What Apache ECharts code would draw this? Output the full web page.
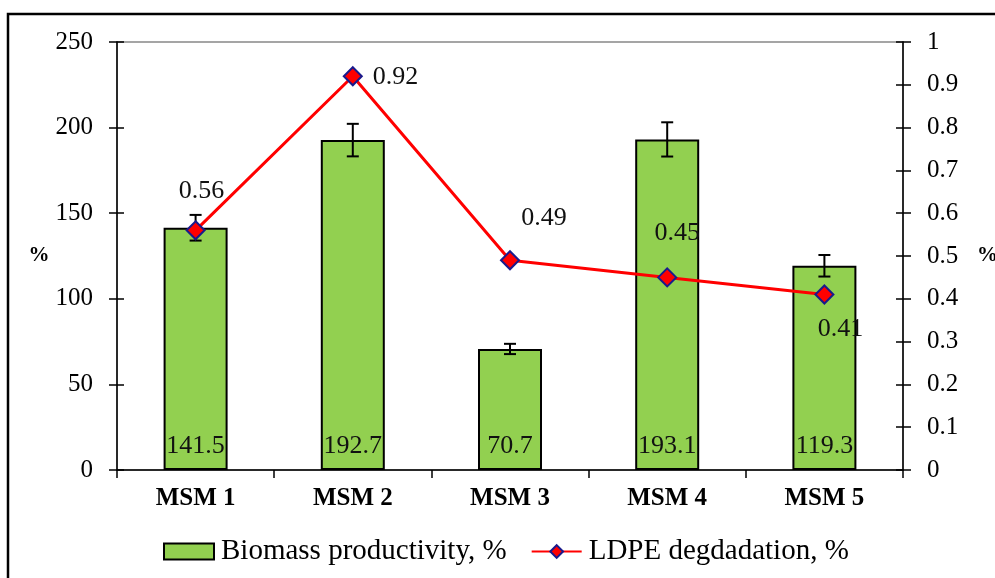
<!DOCTYPE html>
<html>
<head>
<meta charset="utf-8">
<script src="https://cdn.jsdelivr.net/npm/echarts@6/dist/echarts.min.js"></script>
<style>
  html, body { margin: 0; padding: 0; background: #fff; }
  #chart { width: 995px; height: 578px; }
</style>
</head>
<body>
<div id="chart"></div>
<script>
// data
const categories = ['MSM 1', 'MSM 2', 'MSM 3', 'MSM 4', 'MSM 5']
const biomass = [141.5, 192.7, 70.7, 193.1, 119.3]
const biomassErr = [7.5, 9.5, 3, 10, 6.3]
const ldpe = [0.56, 0.92, 0.49, 0.45, 0.41]
const leftTicks = [0, 50, 100, 150, 200, 250]
const rightTicks = [0, 0.1, 0.2, 0.3, 0.4, 0.5, 0.6, 0.7, 0.8, 0.9, 1]

const font = '"Liberation Serif", "Times New Roman", serif'

// label placement for each line point (offsets in px)
const ldpeLabelPos = [
  { position: 'top', offset: [6, -11] },
  { position: 'right', offset: [5, 1] },
  { position: 'top', offset: [34, -14] },
  { position: 'top', offset: [10, -16] },
  { position: 'bottom', offset: [16, 7] }
]

const tickStyle = { color: '#000', width: 1.5 }

// shared options for the two value axes (left and right)
const valueAxis = (ticks, interval, extra) => Object.assign({
  type: 'value',
  min: ticks[0],
  max: ticks[ticks.length - 1],
  interval: interval,
  splitLine: { show: false },
  axisLine: { show: true, lineStyle: tickStyle },
  axisTick: { show: true, length: 8, lineStyle: tickStyle },
  axisLabel: { fontFamily: font, fontSize: 25, color: '#000', margin: 24 }
}, extra)

// invisible copies that only draw the inner half of the crossing ticks
const innerTicks = (ticks, interval, position) => ({
  type: 'value',
  position: position,
  min: ticks[0],
  max: ticks[ticks.length - 1],
  interval: interval,
  splitLine: { show: false },
  axisLine: { show: false },
  axisTick: { show: true, inside: true, length: 7, lineStyle: tickStyle },
  axisLabel: { show: false }
})

const chart = echarts.init(document.getElementById('chart'))

const option = {
  animation: false,
  backgroundColor: '#fff',
  grid: {
    left: 117, right: 92, top: 42, bottom: 108,
    containLabel: false,
    outerBoundsMode: 'none',
    show: true, borderColor: '#888', borderWidth: 1.5
  },
  legend: {
    top: 537,
    left: 163,
    padding: 0,
    itemGap: 24,
    itemWidth: 50,
    itemHeight: 16,
    textStyle: { fontFamily: font, fontSize: 29, color: '#000', padding: [0, 0, 0, 2] },
    data: [
      { name: 'Biomass productivity, %', icon: 'rect', itemStyle: { color: '#92d050', borderColor: '#000', borderWidth: 2 } },
      { name: 'LDPE degdadation, %' }
    ]
  },
  xAxis: {
    type: 'category',
    data: categories,
    axisLine: { lineStyle: tickStyle },
    axisTick: { show: true, length: 8, lineStyle: tickStyle },
    axisLabel: { fontFamily: font, fontSize: 25, fontWeight: 'bold', color: '#000', margin: 16 }
  },
  yAxis: [
    valueAxis(leftTicks, 50, {
      name: '%', nameLocation: 'middle', nameRotate: 0, nameGap: 67,
      nameTextStyle: { fontFamily: font, fontSize: 21, fontWeight: 'bold', color: '#000' }
    }),
    valueAxis(rightTicks, 0.1, {
      position: 'right',
      name: '%', nameLocation: 'middle', nameRotate: 0, nameGap: 74,
      nameTextStyle: { fontFamily: font, fontSize: 21, fontWeight: 'bold', color: '#000' }
    }),
    innerTicks(leftTicks, 50, 'left'),
    innerTicks(rightTicks, 0.1, 'right')
  ],
  series: [
    {
      name: 'Biomass productivity, %',
      type: 'bar',
      data: biomass,
      barWidth: 64,
      itemStyle: { color: '#92d050', borderColor: '#000', borderWidth: 2 },
      label: {
        show: true,
        position: 'insideBottom',
        distance: 11,
        fontFamily: font,
        fontSize: 26,
        color: '#111'
      }
    },
    {
      name: 'err',
      type: 'custom',
      data: biomass.map((v, i) => [i, v - biomassErr[i], v + biomassErr[i]]),
      z: 5,
      renderItem: (params, api) => {
        const lo = api.coord([api.value(0), api.value(1)])
        const hi = api.coord([api.value(0), api.value(2)])
        const x = lo[0]
        const w = 6
        const style = { stroke: '#000', lineWidth: 2 }
        return {
          type: 'group',
          children: [
            { type: 'line', shape: { x1: x, y1: lo[1], x2: x, y2: hi[1] }, style },
            { type: 'line', shape: { x1: x - w, y1: lo[1], x2: x + w, y2: lo[1] }, style },
            { type: 'line', shape: { x1: x - w, y1: hi[1], x2: x + w, y2: hi[1] }, style }
          ]
        }
      }
    },
    {
      name: 'LDPE degdadation, %',
      type: 'line',
      yAxisIndex: 1,
      z: 10,
      data: ldpe.map((v, i) => ({
        value: v,
        label: ldpeLabelPos[i]
      })),
      symbol: 'diamond',
      symbolSize: 18,
      lineStyle: { color: '#ff0000', width: 3 },
      itemStyle: { color: '#ff0000', borderColor: '#1a1a8c', borderWidth: 2 },
      label: {
        show: true,
        fontFamily: font,
        fontSize: 26,
        color: '#111'
      }
    }
  ],
  graphic: [
    {
      type: 'rect',
      shape: { x: 8, y: 14, width: 1100, height: 700 },
      style: { fill: null, stroke: '#000', lineWidth: 2.5 },
      silent: true
    }
  ]
}

chart.setOption(option)
</script>
</body>
</html>
